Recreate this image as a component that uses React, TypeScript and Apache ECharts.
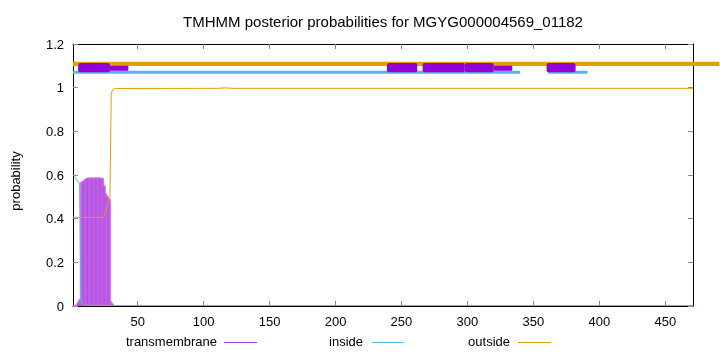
import React, { useEffect, useRef } from "react";
import * as echarts from "echarts";

// ---- data ----
const titleText = "TMHMM posterior probabilities for MGYG000004569_01182";
const xTicks = [50, 100, 150, 200, 250, 300, 350, 400, 450];
const xMin = 1;
const xMax = 471;

// transmembrane posterior probability per residue (impulses)
const tmResidues = [1, 2, 3, 4, 5, 6, 7, 8, 9, 10, 11, 12, 13, 14, 15, 16, 17, 18, 19, 20, 21, 22, 23, 24, 25, 26, 27, 28, 29, 30, 31, 32];
const tmProb = [0, 0, 0, 0.01, 0.02, 0.03, 0.566, 0.57, 0.575, 0.58, 0.584, 0.587, 0.587, 0.587, 0.587, 0.587, 0.587, 0.587, 0.587, 0.587, 0.587, 0.586, 0.586, 0.585, 0.55, 0.515, 0.505, 0.495, 0.487, 0.02, 0.01, 0.005];

// inside probability
const insideCurve: [number, number][] = [
  [1, 0.6], [2, 0.595], [3, 0.585], [4, 0.575], [5, 0.568], [6, 0.562], [7, 0.03], [8, 0.015], [9, 0.006], [10, 0.003],
  [30, 0.002], [100, 0.002], [200, 0.002], [300, 0.002], [400, 0.002], [471, 0.002],
];

// outside probability
const outsideCurve: [number, number][] = [
  [1, 0.406], [24, 0.406], [25, 0.42], [26, 0.44], [27, 0.46], [28, 0.48], [29, 0.5], [30, 0.97], [31, 0.99], [32, 0.994],
  [34, 0.996], [110, 0.997], [116, 0.999], [122, 0.997], [471, 0.997],
];

// predicted topology bands at the top: [start, end]
const outsideBand = [[1, 491]];
const insideBand = [[1, 340], [361, 391]];
const tmBoxes = [[5, 29], [239, 262], [266, 298], [298, 320], [360, 382]];
const tmThinBoxes = [[5, 43], [320, 334]];

const outsideBandY = [1.099, 1.119];
const insideBandY = [1.064, 1.078];
const tmBoxY = [1.071, 1.113];
const tmThinY = [1.078, 1.1];

const legendItems = ["transmembrane", "inside", "outside"];

const PURPLE = "#9400d3";
const PURPLE_FILL = "#cc80ec";
const BLUE = "#56b4e9";
const ORANGE = "#e69f00";
const FONT = "Liberation Sans, Arial, sans-serif";

function bandData(ranges: number[][], ys: number[]) {
  return ranges.map((r) => [r[0], r[1], ys[0], ys[1]]);
}

function rectRenderer(fill: string, radius: number) {
  return (params: any, api: any) => {
    const p1 = api.coord([api.value(0), api.value(3)]);
    const p2 = api.coord([api.value(1), api.value(2)]);
    return {
      type: "rect",
      shape: { x: p1[0], y: p1[1], width: p2[0] - p1[0], height: p2[1] - p1[1], r: radius },
      style: { fill },
    };
  };
}

export default function App() {
  const ref = useRef<HTMLDivElement>(null);
  useEffect(() => {
    if (!ref.current) return;
    const chart = echarts.init(ref.current, null, { renderer: "svg" });
    const axisLineStyle = { color: "#000", width: 1 };
    const tickStyle = { color: "#888", width: 1 };
    const legendColors = ["#a040d8", BLUE, ORANGE];
    const legendTextRight = [217, 363, 510];
    const legendLineX = [[224, 257], [372, 404], [518, 551]];
    const legendY = 341;
    const graphics: any[] = [
      {
        type: "text",
        x: 383,
        y: 21,
        style: { text: titleText, font: `15px ${FONT}`, fill: "#000", textAlign: "center", textVerticalAlign: "middle" },
      },
      {
        type: "text",
        x: 15,
        y: 181,
        rotation: Math.PI / 2,
        style: { text: "probability", font: `13px ${FONT}`, fill: "#000", textAlign: "center", textVerticalAlign: "middle" },
      },
    ];
    legendItems.forEach((name, i) => {
      graphics.push({
        type: "text",
        x: legendTextRight[i],
        y: legendY,
        style: { text: name, font: `13px ${FONT}`, fill: "#000", textAlign: "right", textVerticalAlign: "middle" },
      });
      graphics.push({
        type: "line",
        shape: { x1: legendLineX[i][0], y1: legendY + 1.5, x2: legendLineX[i][1], y2: legendY + 1.5 },
        style: { stroke: legendColors[i], lineWidth: 1 },
      });
    });

    const tmPairs = tmResidues.map((r, i) => [r, tmProb[i]]);

    chart.setOption({
      animation: false,
      grid: { left: 73, right: 27, top: 44, bottom: 46 },
      xAxis: [
        {
          type: "value",
          min: xMin,
          max: xMax,
          position: "bottom",
          axisLine: { show: true, onZero: false, lineStyle: axisLineStyle },
          axisTick: { show: true, inside: true, length: 5, customValues: xTicks, lineStyle: tickStyle },
          axisLabel: { show: true, customValues: xTicks, fontSize: 13, fontFamily: FONT, color: "#000", margin: 9 },
          splitLine: { show: false },
        },
        {
          type: "value",
          min: xMin,
          max: xMax,
          position: "top",
          axisLine: { show: true, onZero: false, lineStyle: axisLineStyle },
          axisTick: { show: true, inside: true, length: 5, customValues: xTicks, lineStyle: tickStyle },
          axisLabel: { show: false },
          splitLine: { show: false },
        },
      ],
      yAxis: [
        {
          type: "value",
          min: 0,
          max: 1.2,
          interval: 0.2,
          position: "left",
          axisLine: { show: true, onZero: false, lineStyle: axisLineStyle },
          axisTick: { show: true, inside: true, length: 5, lineStyle: tickStyle },
          axisLabel: { fontSize: 13, fontFamily: FONT, color: "#000", margin: 9 },
          splitLine: { show: false },
        },
        {
          type: "value",
          min: 0,
          max: 1.2,
          interval: 0.2,
          position: "right",
          axisLine: { show: true, onZero: false, lineStyle: axisLineStyle },
          axisTick: { show: true, inside: true, length: 5, lineStyle: tickStyle },
          axisLabel: { show: false },
          splitLine: { show: false },
        },
      ],
      graphic: graphics,
      series: [
        {
          type: "line",
          name: "transmembraneFill",
          data: tmPairs,
          step: "middle",
          showSymbol: false,
          lineStyle: { color: PURPLE_FILL, width: 1 },
          areaStyle: { color: PURPLE_FILL, opacity: 1 },
          z: 2,
        },
        {
          type: "bar",
          name: "transmembrane",
          data: tmPairs,
          barWidth: 1,
          itemStyle: { color: PURPLE, opacity: 0.4 },
          z: 2,
        },
        {
          type: "line",
          name: "inside",
          data: insideCurve,
          showSymbol: false,
          lineStyle: { color: BLUE, width: 1 },
          z: 3,
        },
        {
          type: "line",
          name: "outside",
          data: outsideCurve,
          showSymbol: false,
          lineStyle: { color: ORANGE, width: 1 },
          z: 3,
        },
        {
          type: "custom",
          name: "outsideBand",
          data: bandData(outsideBand, outsideBandY),
          renderItem: rectRenderer(ORANGE, 0),
          clip: false,
          z: 4,
        },
        {
          type: "custom",
          name: "insideBand",
          data: bandData(insideBand, insideBandY),
          renderItem: rectRenderer(BLUE, 0),
          z: 5,
        },
        {
          type: "custom",
          name: "tmThin",
          data: bandData(tmThinBoxes, tmThinY),
          renderItem: rectRenderer(PURPLE, 1),
          z: 6,
        },
        {
          type: "custom",
          name: "tmBoxes",
          data: bandData(tmBoxes, tmBoxY),
          renderItem: rectRenderer(PURPLE, 2),
          z: 7,
        },
      ],
    });
    return () => chart.dispose();
  }, []);
  return <div ref={ref} style={{ position: "fixed", left: 0, top: 0, width: 720, height: 352 }} />;
}
